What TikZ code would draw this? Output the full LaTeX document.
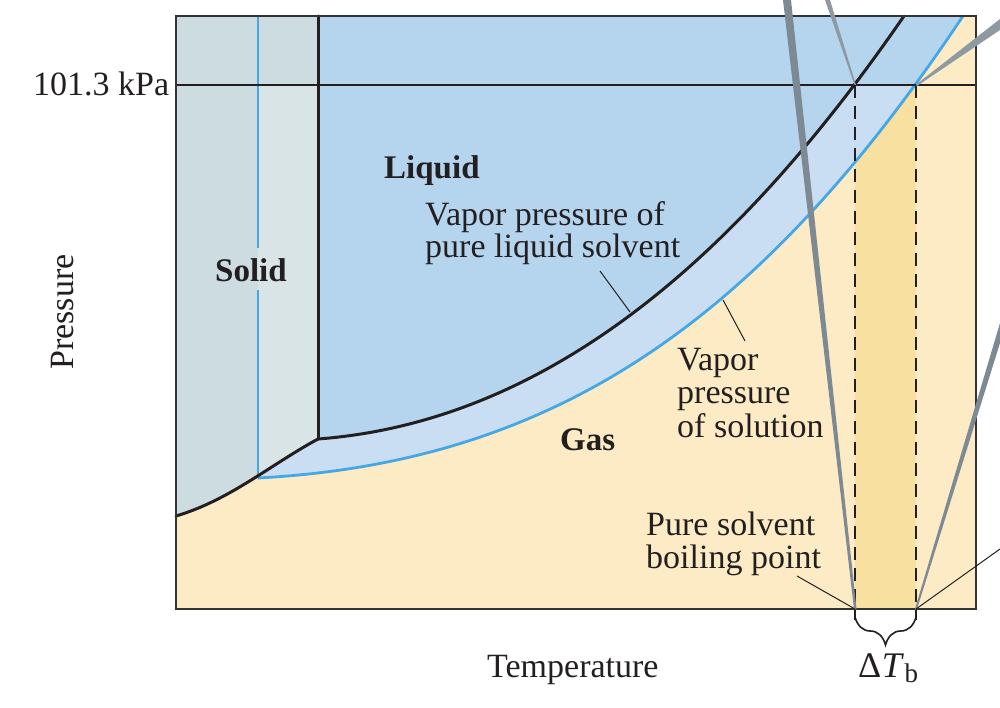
\documentclass[tikz,border=0pt]{standalone}
\usepackage{fontspec}
\setmainfont{Liberation Serif}
\usetikzlibrary{decorations.pathreplacing}
\definecolor{gasc}{HTML}{FCEBC4}
\definecolor{colc}{HTML}{F8E0A0}
\definecolor{liqc}{HTML}{B5D4EE}
\definecolor{bandc}{HTML}{C9DEF2}
\definecolor{solc}{HTML}{CCDCE0}
\definecolor{stripc}{HTML}{D8E4E6}
\definecolor{bluec}{HTML}{45A8E6}
\definecolor{blk}{HTML}{231F20}
\definecolor{framec}{HTML}{333333}
\definecolor{greyc}{HTML}{7D8A93}
\definecolor{greyd}{HTML}{8E99A1}
\begin{document}
\begin{tikzpicture}[x=1pt,y=-1pt,
  lbl/.style={font=\fontsize{34}{36}\selectfont, inner sep=0pt, text=blk, anchor=base west},
  bold/.style={font=\fontsize{33}{36}\selectfont\bfseries, inner sep=0pt, text=blk, anchor=base west},
  leader/.style={draw=blk, line width=1pt},
  bigline/.style={draw=blk, line width=3pt, line cap=round, line join=round},
  blueline/.style={draw=bluec, line width=2.8pt},
  dashline/.style={draw=blk, line width=2pt, dash pattern=on 13pt off 8pt},
  pcurve/.style={insert path={.. controls (570,420) and (760,225) .. (904,16)}},
  scurve/.style={insert path={.. controls (560,462) and (763,316) .. (963,16)}},
  subcurve/.style={insert path={.. controls (230,500) and (270,465) .. (318,439)}}]
\useasboundingbox (0,0) rectangle (1000,708);
% fills
\fill[gasc] (176,16) rectangle (976,609);
\fill[colc] (855,85) rectangle (916,609);
\fill[bandc] (258,16) -- (258,478) [scurve] -- cycle;
\begin{scope}
  \clip (176,16) rectangle (976,85);
  \fill[liqc] (258,16) -- (258,478) [scurve] -- cycle;
\end{scope}
\fill[liqc] (318,16) -- (318,439) [pcurve] -- cycle;
\fill[solc] (318,16) -- (176,16) -- (176,516) [subcurve] -- cycle;
\begin{scope}
  \clip (258,85) rectangle (318,609);
  \fill[stripc] (318,16) -- (176,16) -- (176,516) [subcurve] -- cycle;
\end{scope}
% lines
\draw[blueline] (258,16) -- (258,248);
\draw[blueline] (258,290) -- (258,478);
\draw[blueline] (258,478) [scurve];
\draw[blk, line width=1.6pt] (176,85) -- (976,85);
\draw[bigline] (318,16) -- (318,439);
\draw[bigline] (176,516) [subcurve];
\draw[bigline] (318,439) [pcurve];
\draw[dashline] (855,85) -- (855,620);
\draw[dashline] (916,85) -- (916,620);
\draw[framec, line width=2.2pt] (176,16) rectangle (976,609);
% grey perspective lines
\fill[greyc] (783,0) -- (791,0) -- (856.5,609) -- (854,609) -- cycle;
\fill[greyd] (825,0) -- (830,0) -- (856,85) -- (854.5,85) -- cycle;
\fill[greyd] (1000,19) -- (1000,30) -- (917,86) -- (915.5,85) -- cycle;
\fill[greyc] (1000,323) -- (1000,343) -- (917,609) -- (915,609) -- cycle;
% labels
\node[bold] (liq) at (384,179) {Liquid};
\node[bold] (sol) at (215,282) {Solid};
\node[bold] (gas) at (560,450) {Gas};
\node[lbl] (vp1) at (425,226) {Vapor pressure of};
\node[lbl] (vp2) at (425,258) {pure liquid solvent};
\node[lbl] (vs1) at (677,370) {Vapor};
\node[lbl] (vs2) at (677,403) {pressure};
\node[lbl] (vs3) at (677,437) {of solution};
\node[lbl] (bp1) at (646,535) {Pure solvent};
\node[lbl] (bp2) at (646,568) {boiling point};
\node[lbl] (kpa) at (33,96) {101.3 kPa};
\node[lbl] (temp) at (487,677) {Temperature};
\node[lbl, anchor=base, rotate=90] (pres) at (73,312) {Pressure};
\node[lbl] (dtb) at (858,677) {\fontsize{36}{36}\selectfont Δ\kern0.5pt\textit{T}\kern0.5pt\raisebox{-5pt}{\fontsize{27}{27}\selectfont b}};
% leaders
\coordinate (a1) at (600,271); \coordinate (b1) at (630,312);
\coordinate (a2) at (723,300); \coordinate (b2) at (745,341);
\coordinate (a3) at (797,576); \coordinate (b3) at (855,609);
\coordinate (a4) at (1000,549); \coordinate (b4) at (916,609);
\draw[leader] (a1) -- (b1);
\draw[leader] (a2) -- (b2);
\draw[leader] (a3) -- (b3);
\draw[leader] (a4) -- (b4);
% brace
\coordinate (br1) at (916,617); \coordinate (br2) at (855,617);
\draw[blk, line width=1.6pt, decorate, decoration={brace, amplitude=28pt}] (br1) -- (br2);
\end{tikzpicture}
\end{document}
